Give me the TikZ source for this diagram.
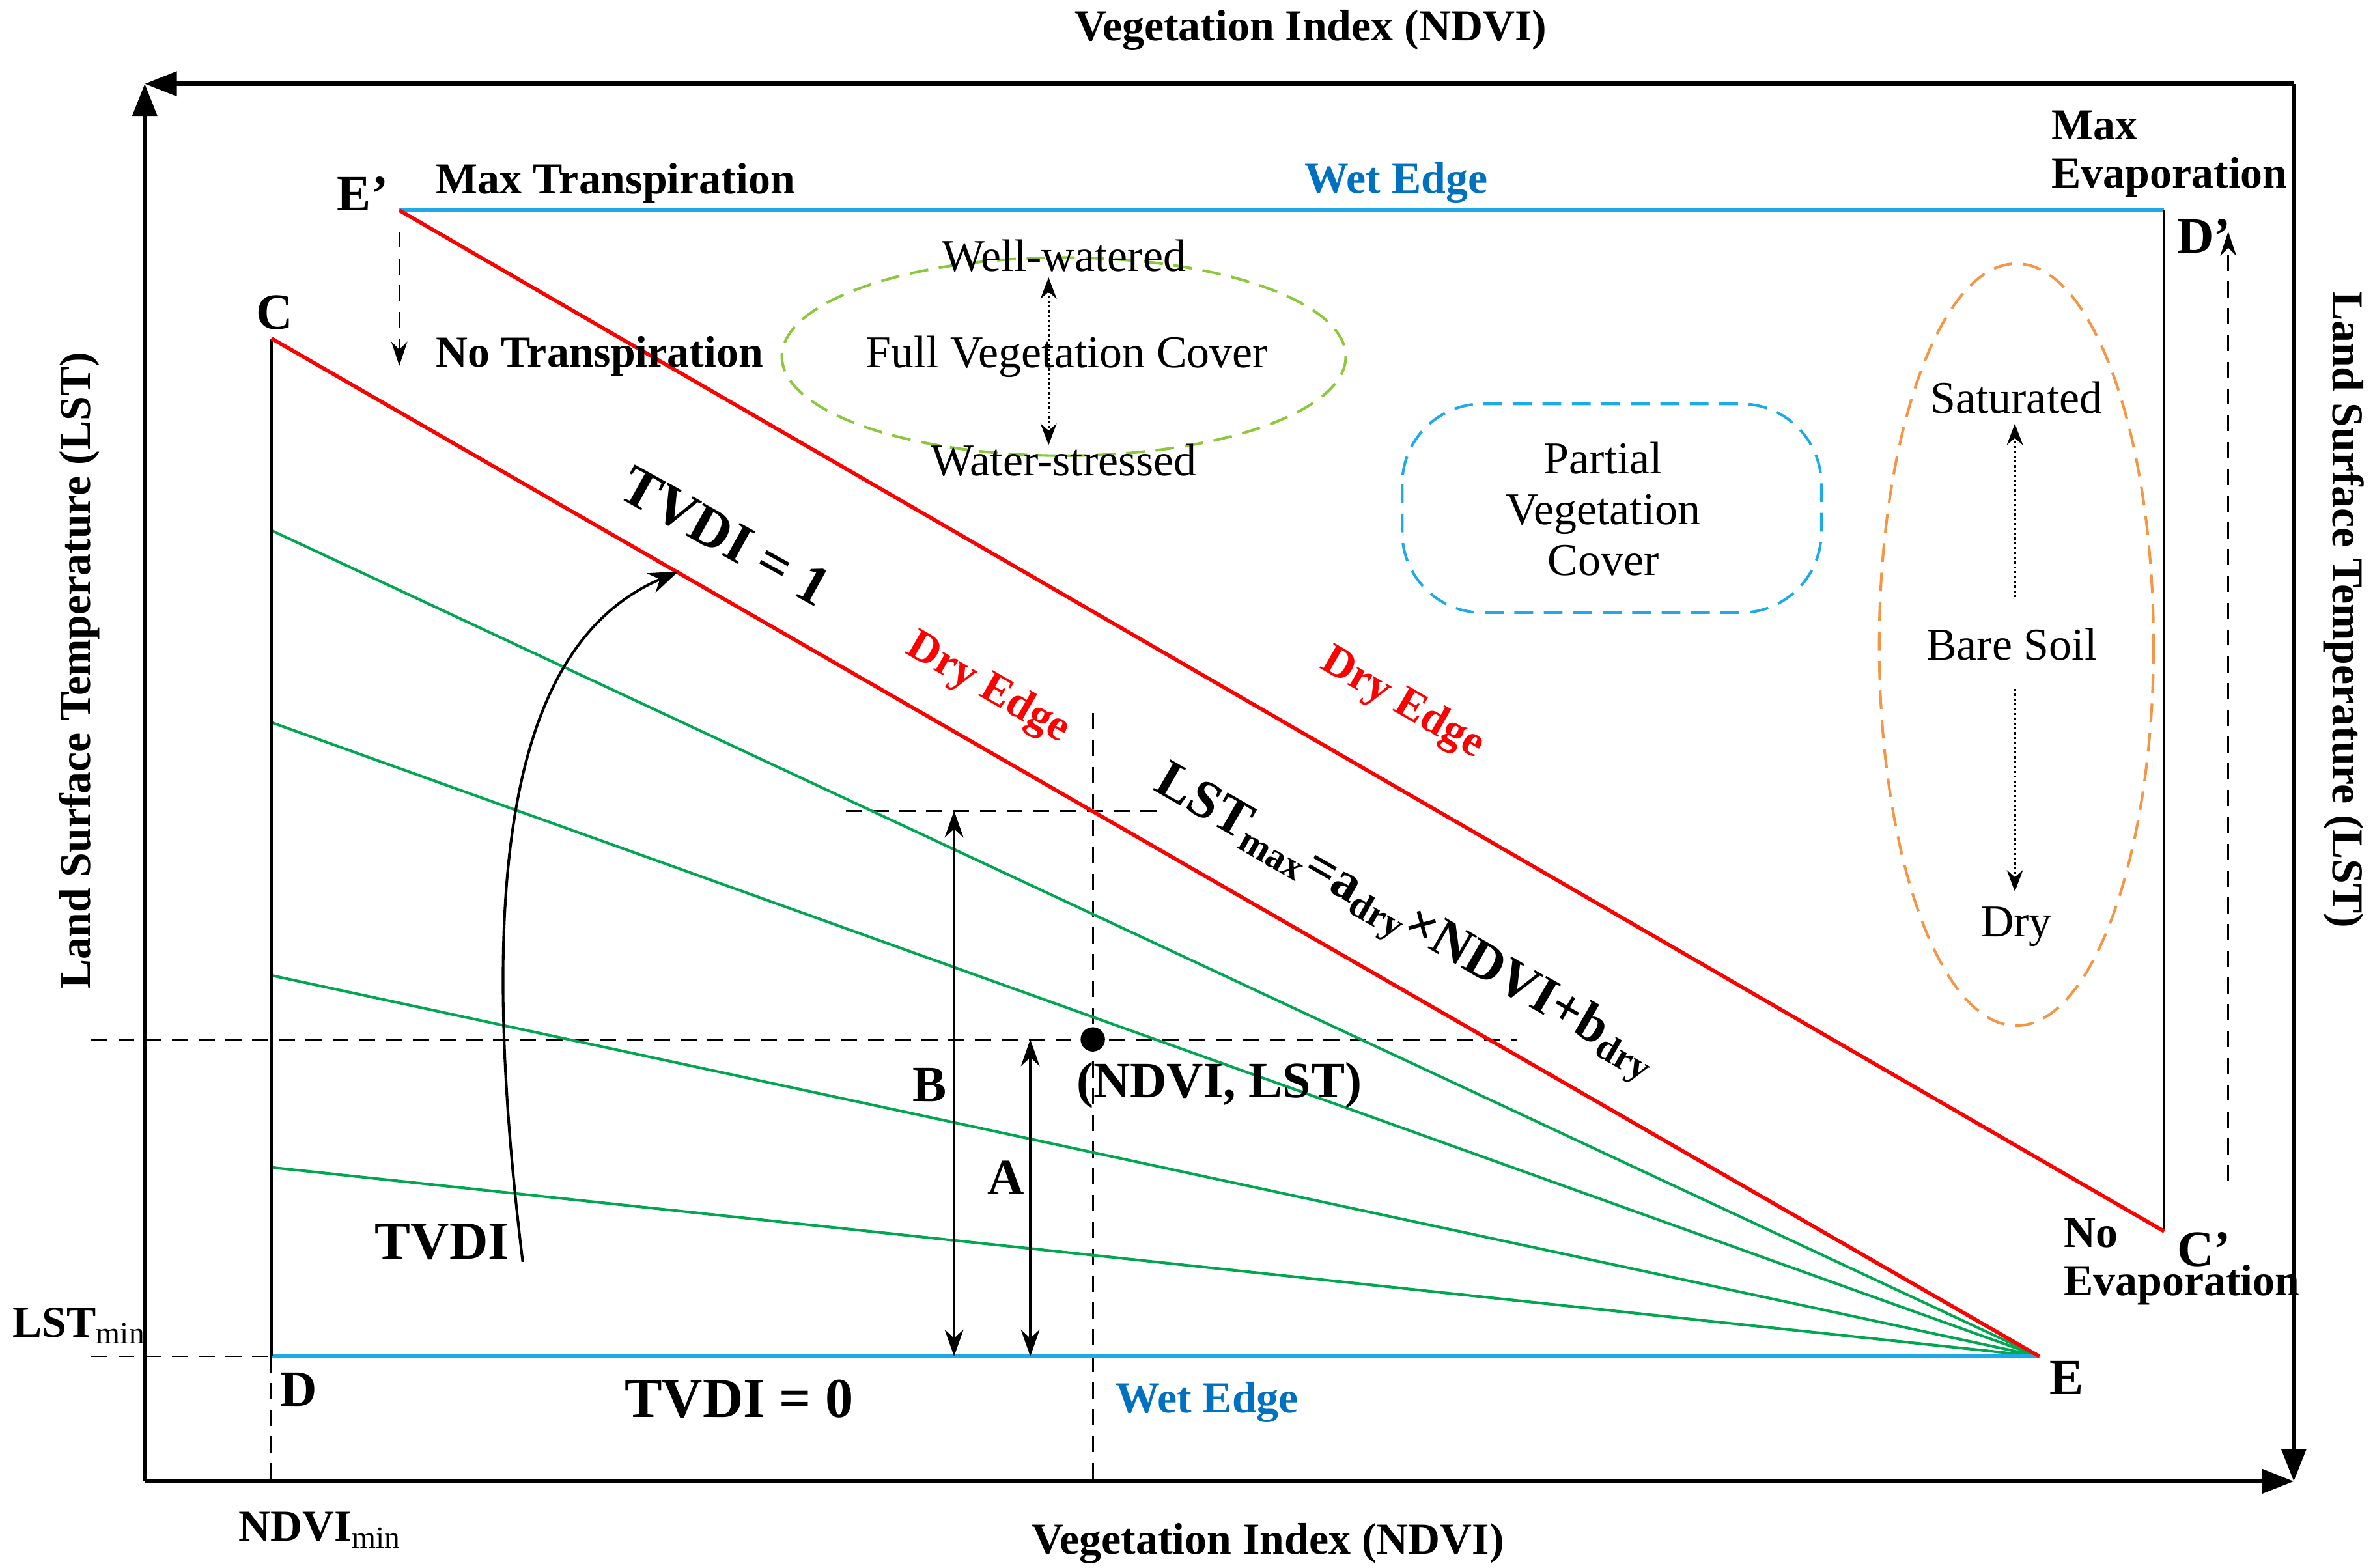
\documentclass[tikz,border=0pt]{standalone}
\usepackage{fontspec}
\setmainfont{Liberation Serif}
\usetikzlibrary{arrows.meta}
\definecolor{wblue}{RGB}{0,112,192}
\definecolor{lblue}{RGB}{30,170,230}
\definecolor{dgreen}{RGB}{0,166,80}
\definecolor{lgreen}{RGB}{140,200,60}
\definecolor{orng}{RGB}{245,150,70}
\begin{document}
\begin{tikzpicture}[x=0.02cm,y=-0.02cm,
  ax/.style={line width=1.6pt,-{Triangle[length=12pt,width=9pt]}},
  bl/.style={font=\bfseries\fontsize{16.5}{18}\selectfont},
  big/.style={font=\bfseries\fontsize{19}{21}\selectfont},
  rg/.style={font=\fontsize{17}{19}\selectfont},
  dsh/.style={dashed,line width=0.7pt,dash pattern=on 6pt off 4pt},
  da/.style={line width=0.9pt,-{Stealth[length=9pt,width=6pt]}},
  red/.style={draw=red,line width=1.4pt},
  grn/.style={draw=dgreen,line width=1pt},
  wb/.style={draw=lblue,line width=1.4pt}]
\useasboundingbox (0,0) rectangle (1557,1028.5);
% axes
\coordinate (O) at (95,972); \coordinate (Y) at (95,55);
\coordinate (X) at (1505,972); \coordinate (TR) at (1505,55);
\draw[ax] (O) -- (Y);
\draw[ax] (O) -- (X);
\draw[ax] (TR) -- (95,55);
\draw[ax] (TR) -- (1505,972);
\node[bl] at (860,20) {Vegetation Index (NDVI)};
\node[bl] at (832,1013) {Vegetation Index (NDVI)};
\node[bl,rotate=90] at (52,440) {Land Surface Temperature (LST)};
\node[bl,rotate=-90] at (1538,400) {Land Surface Temperature (LST)};
% points
\coordinate (Ep) at (262,138); \coordinate (Dp) at (1420,138); \coordinate (Cp) at (1420,808);
\coordinate (C) at (178,222); \coordinate (D) at (178,890); \coordinate (E) at (1338,890);
% dashed guides
\draw[dsh] (178,890) -- (178,972);
\draw[dsh] (60,890) -- (D);
\draw[dsh] (60,682) -- (995,682);
\draw[dsh] (717,468) -- (717,972);
\draw[dsh] (555,532) -- (760,532);
% green lines
\foreach \y in {348,474,640,766} \draw[grn] (E) -- (178,\y);
% main lines
\draw[wb] (Ep) -- (Dp);
\draw[wb] (D) -- (E);
\draw[line width=1pt] (Dp) -- (Cp);
\draw[line width=1pt] (C) -- (D);
\draw[red] (Ep) -- (Cp);
\draw[red] (C) -- (E);
% point
\fill (717,682) circle (8);
% arrows
\draw[line width=1pt,{Stealth[length=10pt,width=7pt]}-{Stealth[length=10pt,width=7pt]}] (626,532) -- (626,890);
\draw[line width=1pt,{Stealth[length=10pt,width=7pt]}-{Stealth[length=10pt,width=7pt]}] (676,682) -- (676,890);
\draw[da,dsh] (262,152) -- (262,240);
\draw[da,dsh] (1462,775) -- (1462,152);
\draw[line width=1pt,-{Stealth[length=11pt,width=8pt]}] (343,828) .. controls (310,560) and (340,420) .. (445,375);
% ellipses
\draw[lgreen,dashed,line width=1pt,dash pattern=on 7pt off 4pt] (698,234) ellipse (185 and 65);
\draw[line width=0.8pt,densely dotted,{Stealth[length=8pt,width=6pt]}-{Stealth[length=8pt,width=6pt]}] (688,182) -- (688,292);
\draw[lblue,dashed,line width=1pt,dash pattern=on 7pt off 4pt,rounded corners=30pt] (920,265) rectangle (1195,402);
\draw[orng,dashed,line width=1pt,dash pattern=on 7pt off 4pt] (1323,423) ellipse (90 and 250);
\draw[line width=0.8pt,densely dotted,-{Stealth[length=8pt,width=6pt]}] (1322,392) -- (1322,278);
\draw[line width=0.8pt,densely dotted,-{Stealth[length=8pt,width=6pt]}] (1322,452) -- (1322,585);
% labels
\node[big] at (238,127) {E’};
\node[bl,anchor=west] at (280,120) {Max Transpiration};
\node[bl,text=wblue] at (916,120) {Wet Edge};
\node[bl,align=left,anchor=west] at (1340,101) {Max\\Evaporation};
\node[big] at (1446,155) {D’};
\node[big] at (180,205) {C};
\node[bl,anchor=west] at (280,234) {No Transpiration};
\node[rg] at (698,168) {Well-watered};
\node[rg] at (700,234) {Full Vegetation Cover};
\node[rg] at (698,302) {Water-stressed};
\node[rg,align=center] at (1052,334) {Partial\\Vegetation\\Cover};
\node[rg] at (1323,261) {Saturated};
\node[rg] at (1320,423) {Bare Soil};
\node[rg] at (1323,608) {Dry};
\node[font=\bfseries\fontsize{21}{23}\selectfont,rotate=-29] at (476,352) {TVDI = 1};
\node[bl,text=red,rotate=-30] at (648,452) {Dry Edge};
\node[bl,text=red,rotate=-30] at (920,462) {Dry Edge};
\node[font=\bfseries\fontsize{20}{22}\selectfont,rotate=-30] at (922,606) {LST$_{\mathbf{max}}$=a$_{\mathbf{dry}}$×NDVI+b$_{\mathbf{dry}}$};
\node[big] at (610,712) {B};
\node[big] at (660,773) {A};
\node[big] at (800,712) {(NDVI, LST)};
\node[font=\bfseries\fontsize{20}{22}\selectfont] at (290,815) {TVDI};
\node[bl,align=left,anchor=west] at (1348,828) {No\\Evaporation};
\node[big] at (1446,820) {C’};
\node[bl] at (52,870) {LST$_{\mathrm{min}}$};
\node[big] at (196,912) {D};
\node[font=\bfseries\fontsize{21}{23}\selectfont] at (485,918) {TVDI = 0};
\node[bl,text=wblue] at (792,920) {Wet Edge};
\node[big] at (1356,904) {E};
\node[bl] at (210,1004) {NDVI$_{\mathrm{min}}$};
\end{tikzpicture}
\end{document}
